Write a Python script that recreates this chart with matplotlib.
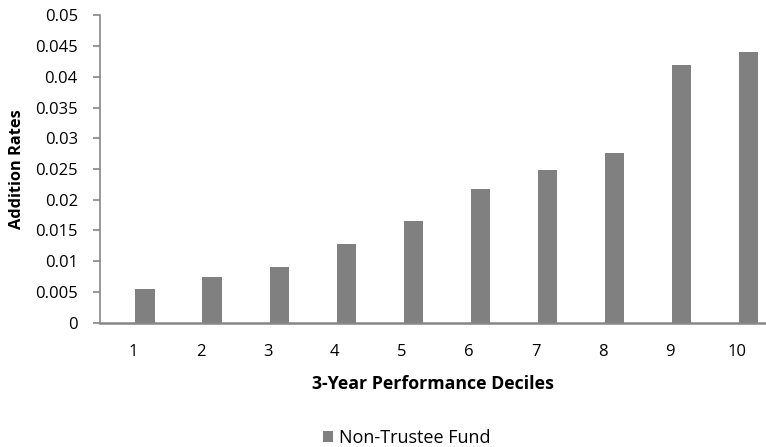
import matplotlib.pyplot as plt
import numpy as np

plt.rcParams['font.family'] = ['Open Sans', 'DejaVu Sans']

deciles = [1, 2, 3, 4, 5, 6, 7, 8, 9, 10]
non_trustee = [0.0055, 0.0074, 0.0090, 0.0128, 0.0165, 0.0218, 0.0248, 0.0276, 0.0419, 0.0440]
y_ticks = [0, 0.005, 0.01, 0.015, 0.02, 0.025, 0.03, 0.035, 0.04, 0.045, 0.05]
y_labels = ['0', '0.005', '0.01', '0.015', '0.02', '0.025', '0.03', '0.035', '0.04', '0.045', '0.05']

axis_grey = '#868686'

fig = plt.figure(figsize=(7.66, 4.47), dpi=100)
ax = fig.add_axes([100 / 766, 124.3 / 447, 666 / 766, 307.4 / 447])

x = np.array(deciles)
# second slot of a two-series group, so the bar sits right of the category centre
bars = ax.bar(x + 0.17, non_trustee, width=0.285, color='#808080', label='Non-Trustee Fund')

ax.set_xlim(0.5, 0.5 + 666 / 67.1)
ax.set_ylim(0, 0.05)
ax.set_xticks(x)
ax.set_xticklabels([str(d) for d in deciles], fontsize=12)
ax.set_yticks(y_ticks)
ax.set_yticklabels(y_labels, fontsize=12)

for side in ['top', 'right']:
    ax.spines[side].set_visible(False)
ax.spines['left'].set_color(axis_grey)
ax.spines['bottom'].set_color(axis_grey)
ax.spines['left'].set_linewidth(1.2)
ax.spines['bottom'].set_linewidth(1.8)
ax.tick_params(axis='y', length=5, width=1.2, color=axis_grey, pad=11)
ax.tick_params(axis='x', length=0, pad=15)

ax.set_ylabel('Addition Rates', fontsize=11.8, fontweight='bold', labelpad=7)
ax.set_xlabel('3-Year Performance Deciles', fontsize=12.8, fontweight='bold', labelpad=11)

fig.legend(handles=[bars], labels=['Non-Trustee Fund'], loc='center', bbox_to_anchor=(407 / 766, 1 - 438 / 447),
           frameon=False, fontsize=13, handlelength=0.55, handleheight=0.55, handletextpad=0.35)

plt.savefig('out.png', dpi=100)
